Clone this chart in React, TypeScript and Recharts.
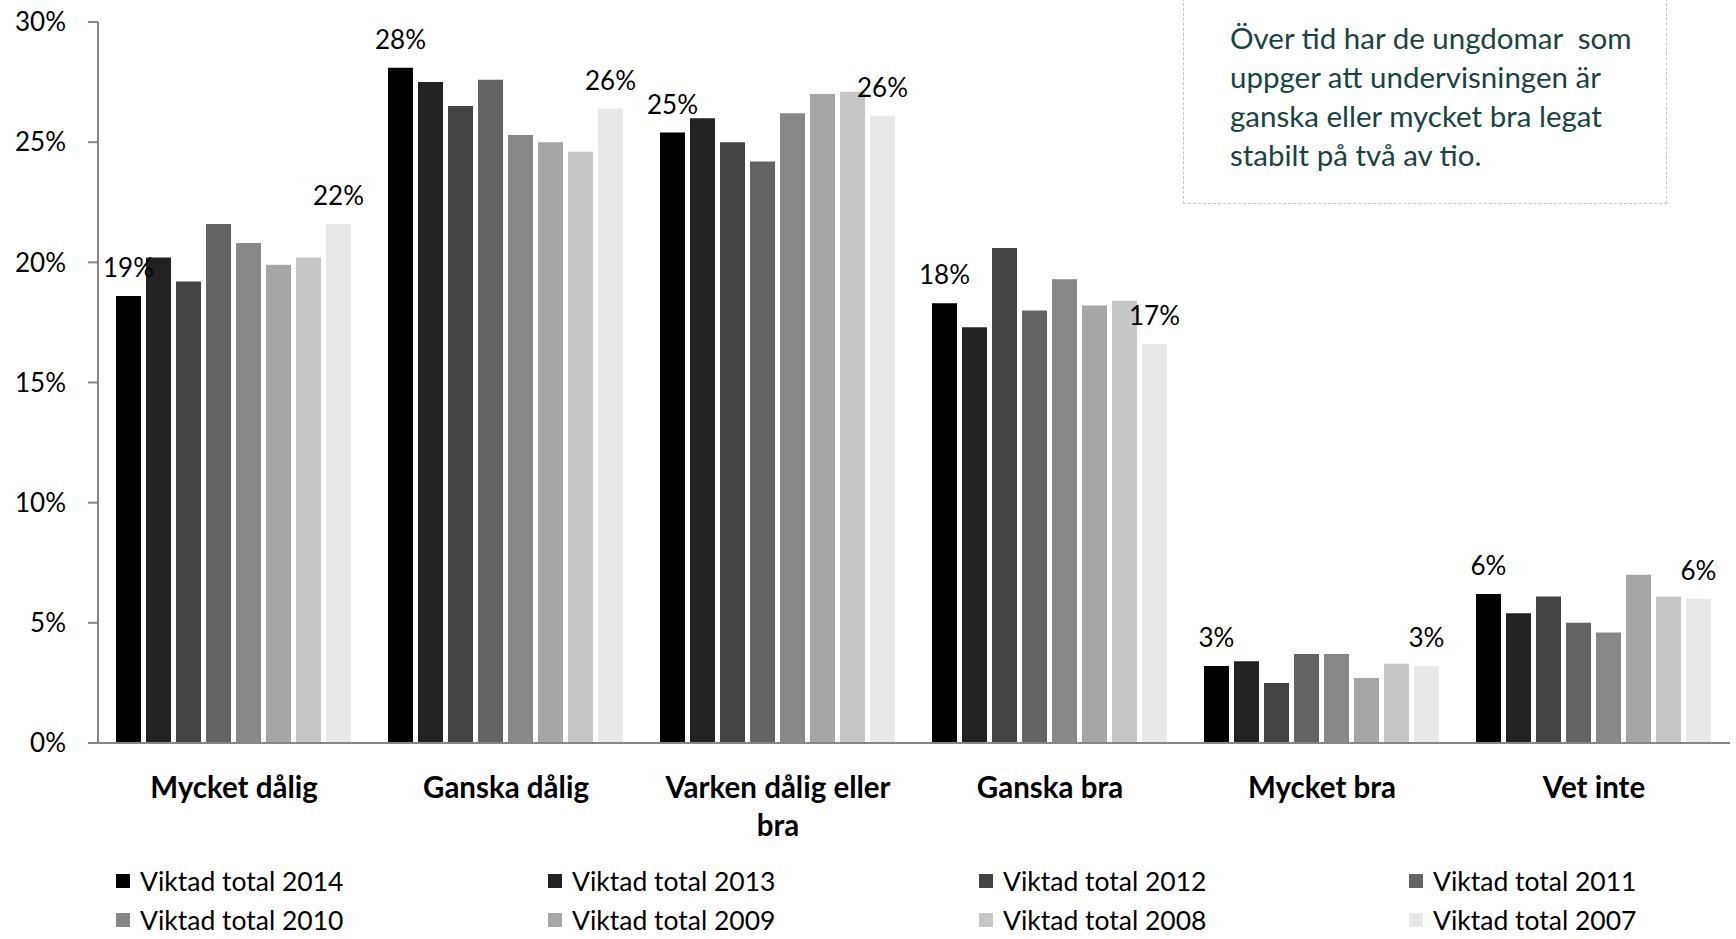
import { BarChart, Bar, XAxis, YAxis, Legend, LabelList } from "recharts";

const categories = [
  "Mycket dålig",
  "Ganska dålig",
  "Varken dålig eller bra",
  "Ganska bra",
  "Mycket bra",
  "Vet inte",
];

const years = ["2014", "2013", "2012", "2011", "2010", "2009", "2008", "2007"];

// percent per category, one array per survey year
const v2014 = [18.6, 28.1, 25.4, 18.3, 3.2, 6.2];
const v2013 = [20.2, 27.5, 26.0, 17.3, 3.4, 5.4];
const v2012 = [19.2, 26.5, 25.0, 20.6, 2.5, 6.1];
const v2011 = [21.6, 27.6, 24.2, 18.0, 3.7, 5.0];
const v2010 = [20.8, 25.3, 26.2, 19.3, 3.7, 4.6];
const v2009 = [19.9, 25.0, 27.0, 18.2, 2.7, 7.0];
const v2008 = [20.2, 24.6, 27.1, 18.4, 3.3, 6.1];
const v2007 = [21.6, 26.4, 26.1, 16.6, 3.2, 6.0];

const series = [v2014, v2013, v2012, v2011, v2010, v2009, v2008, v2007];
const colors = ["#000000", "#222222", "#444444", "#646464", "#878787", "#a6a6a6", "#c6c6c6", "#e8e8e8"];
const yTicks = [0, 5, 10, 15, 20, 25, 30];

const noteLines = [
  "Över tid har de ungdomar  som",
  "uppger att undervisningen är",
  "ganska eller mycket bra legat",
  "stabilt på två av tio.",
];

const font = "Lato, Carlito, Calibri, sans-serif";

const data = categories.map((name, i) => {
  const row: Record<string, string | number> = { name };
  years.forEach((y, s) => {
    row[y] = series[s][i];
  });
  return row;
});

// simple word wrap by character count (long labels go to two lines)
const wrapLabel = (label: string, maxChars: number) => {
  const lines: string[] = [];
  let cur = "";
  label.split(" ").forEach((w) => {
    const next = cur ? `${cur} ${w}` : w;
    if (next.length > maxChars && cur) {
      lines.push(cur);
      cur = w;
    } else {
      cur = next;
    }
  });
  if (cur) lines.push(cur);
  return lines;
};

const CategoryTick = (props: any) => {
  const { x, y, payload } = props;
  const lines = wrapLabel(String(payload.value), 18);
  return (
    <text
      x={x}
      y={y + 55}
      textAnchor="middle"
      fill="#000"
      fontFamily={font}
      fontSize={29.5}
      fontWeight={700}
    >
      {lines.map((l, i) => (
        <tspan key={i} x={x} dy={i === 0 ? 0 : 38}>
          {l}
        </tspan>
      ))}
    </text>
  );
};

// legend built straight from years/colors so the order stays 2014 -> 2007
const LegendContent = () => (
  <div
    style={{
      height: 100,
      paddingTop: 21,
      paddingLeft: 116,
      boxSizing: "border-box",
      display: "grid",
      gridTemplateColumns: "432px 431px 430px auto",
      gridTemplateRows: "42px 36px",
      fontFamily: font,
      fontSize: 26.5,
      lineHeight: "30px",
      color: "#000",
    }}
  >
    {years.map((y, index) => (
      <div key={`legend-${index}`} style={{ display: "flex", alignItems: "center", whiteSpace: "nowrap" }}>
        <div style={{ width: 14, height: 14, background: colors[index], marginRight: 10 }} />
        <span>Viktad total {y}</span>
      </div>
    ))}
  </div>
);

const App = () => {
  return (
    <div style={{ position: "absolute", left: 0, top: 0, width: 1736, height: 939, background: "#fff", overflow: "hidden" }}>
      <BarChart
        width={1736}
        height={939}
        data={data}
        margin={{ top: 22, right: 6, left: 0, bottom: 0 }}
        barCategoryGap={18}
        barGap={5}
      >
        <YAxis
          width={98}
          domain={[0, 30]}
          ticks={yTicks}
          tickFormatter={(v) => `${v}%`}
          axisLine={{ stroke: "#868686", strokeWidth: 2 }}
          tickLine={{ stroke: "#868686", strokeWidth: 2 }}
          tickSize={10}
          tickMargin={22}
          tick={{ fill: "#000", fontSize: 26, fontFamily: font }}
          interval={0}
        />
        <XAxis
          dataKey="name"
          height={96}
          axisLine={{ stroke: "#868686", strokeWidth: 2 }}
          tickLine={false}
          tickSize={0}
          tickMargin={0}
          interval={0}
          tick={<CategoryTick />}
        />
        <Legend verticalAlign="bottom" content={<LegendContent />} />
        {years.map((y, s) => (
          <Bar key={y} dataKey={y} name={y} fill={colors[s]} isAnimationActive={false}>
            {(s === 0 || s === years.length - 1) && (
              <LabelList
                dataKey={y}
                position="top"
                offset={19}
                formatter={(v: any) => `${Math.round(Number(v))}%`}
                style={{ fill: "#000", fontSize: 26, fontFamily: font }}
              />
            )}
          </Bar>
        ))}
      </BarChart>
      <div
        style={{
          position: "absolute",
          left: 1183,
          top: -2,
          width: 484,
          height: 206,
          boxSizing: "border-box",
          border: "1.5px dashed #c9c9c9",
          paddingLeft: 46,
          paddingTop: 19,
          fontFamily: font,
          fontSize: 29.5,
          lineHeight: "39px",
          color: "#1b4343",
        }}
      >
        {noteLines.map((line, i) => (
          <div key={i} style={{ whiteSpace: "pre" }}>
            {line}
          </div>
        ))}
      </div>
    </div>
  );
};

export default App;
